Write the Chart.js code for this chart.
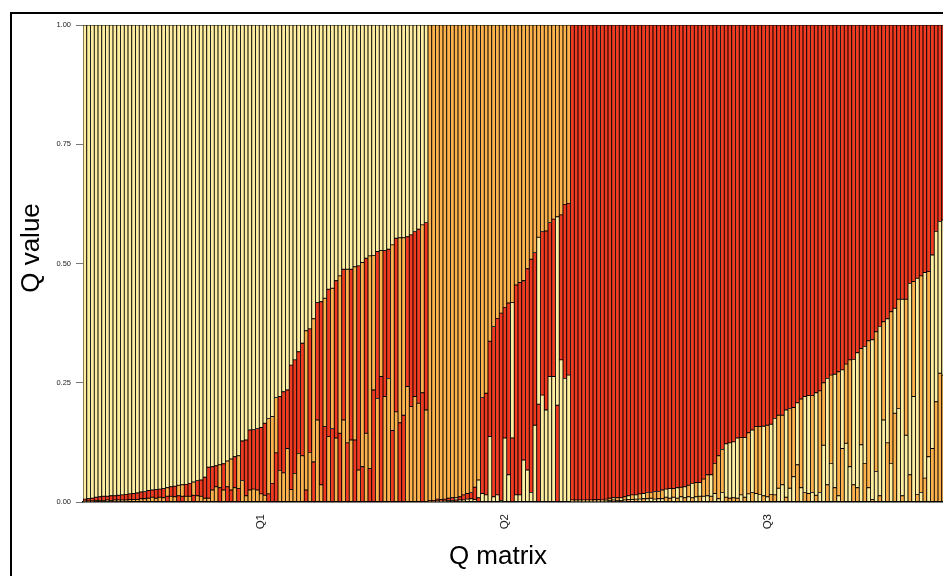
<!DOCTYPE html>
<html>
<head>
<meta charset="utf-8">
<script src="https://cdn.jsdelivr.net/npm/chart.js@4"></script>
<style>
  html, body { margin: 0; padding: 0; overflow: hidden; background: #fff; }
  #frame { position: absolute; left: 10px; top: 12px; width: 1000px; height: 700px; border: 2px solid #000; }
  #wrap { position: absolute; left: 0; top: 0; width: 1000px; height: 602px; }
</style>
</head>
<body>
<div id="frame"></div>
<div id="wrap"><canvas id="myChart" width="1000" height="602"></canvas></div>
<script>
// Q matrix, one value per individual; the group's own cluster is 1 - the other two
const groupNames = ["Q1", "Q2", "Q3"];
const clusterColors = ["#FFEDA0", "#FEB24C", "#F03B20"]; // cluster 1, 2, 3
const yTicks = [0, 0.25, 0.5, 0.75, 1];

const q1Orange = [.002,.002,.002,.003,.003,.003,.004,.003,.004,.004,.004,.004,.005,.005,.005,.007,.007,.008,.010,.008,
  .010,.009,.018,.012,.011,.022,.024,.012,.012,.028,.013,.012,.008,.008,.025,.032,.048,.025,.054,.065,
  .030,.069,.045,.013,.025,.027,.025,.017,.014,.158,.140,.116,.066,.061,.112,.026,.060,.102,.097,.334,
  .104,.300,.172,.036,.269,.137,.294,.134,.330,.172,.364,.130,.363,.067,.428,.144,.446,.282,.217,.264,
  .221,.259,.389,.189,.388,.372,.242,.200,.221,.207,.352,.193];
const q1Red = [.004,.005,.006,.007,.008,.009,.008,.010,.009,.010,.011,.012,.012,.013,.014,.014,.015,.016,.015,.018,
  .017,.019,.012,.020,.022,.013,.012,.025,.027,.014,.032,.034,.044,.065,.049,.044,.030,.055,.032,.025,
  .065,.028,.083,.117,.126,.125,.129,.139,.151,.017,.039,.103,.155,.170,.123,.261,.238,.213,.236,.025,
  .259,.084,.246,.384,.158,.309,.154,.330,.144,.316,.124,.358,.130,.428,.074,.367,.070,.235,.308,.263,
  .306,.271,.150,.364,.166,.182,.314,.360,.346,.365,.229,.393];

const q2Yellow = [.001,.001,.002,.002,.002,.003,.003,.005,.004,.004,.006,.007,.005,.037,.018,.015,.137,.011,.015,.003,
  .134,.057,.284,.015,.015,.088,.067,.020,.161,.350,.224,.193,.263,.263,.395,.298,.259,.266];
const q2Red = [.002,.002,.004,.003,.004,.005,.006,.004,.007,.011,.012,.013,.026,.009,.201,.213,.200,.357,.370,.393,
  .274,.360,.134,.440,.445,.376,.422,.489,.362,.205,.343,.375,.323,.330,.203,.304,.365,.360];

const q3Yellow = [.002,.001,.003,.002,.002,.002,.002,.002,.002,.002,.003,.005,.003,.006,.004,.008,.005,.009,.006,.011,
  .007,.008,.006,.007,.007,.017,.020,.010,.022,.011,.023,.011,.030,.011,.029,.012,.013,.045,.018,.007,
  .020,.112,.116,.117,.126,.015,.125,.017,.131,.018,.016,.146,.011,.147,.160,.029,.036,.183,.029,.053,
  .130,.030,.201,.205,.020,.215,.020,.119,.223,.081,.238,.013,.165,.123,.074,.263,.283,.120,.245,.030,
  .335,.064,.355,.172,.260,.081,.220,.196,.412,.140,.401,.221,.453,.020,.431,.095,.406,.357,.318,.325,
  .330,.335];
const q3Orange = [.002,.003,.001,.002,.002,.002,.003,.003,.002,.004,.005,.004,.006,.003,.007,.005,.010,.006,.011,.007,
  .013,.012,.016,.015,.018,.010,.008,.018,.008,.020,.009,.024,.009,.030,.012,.036,.044,.012,.063,.090,
  .090,.010,.008,.009,.008,.120,.010,.128,.020,.140,.142,.013,.150,.016,.015,.153,.146,.010,.167,.145,
  .078,.186,.020,.018,.203,.014,.213,.131,.036,.185,.030,.260,.112,.166,.224,.036,.030,.202,.081,.308,
  .005,.293,.013,.206,.124,.318,.186,.229,.013,.285,.057,.241,.016,.454,.050,.388,.112,.210,.270,.266,
  .270,.280];

// one row [cluster1, cluster2, cluster3] per individual
const rows = [];
q1Orange.forEach((o, i) => rows.push([1 - o - q1Red[i], o, q1Red[i]]));
q2Yellow.forEach((y, i) => rows.push([y, 1 - y - q2Red[i], q2Red[i]]));
q3Yellow.forEach((y, i) => rows.push([y, q3Orange[i], 1 - y - q3Orange[i]]));

const groupSizes = [q1Orange.length, q2Yellow.length, q3Yellow.length];
const groupLabelAt = {};
let start = 0;
groupSizes.forEach((n, g) => {
  groupLabelAt[start + Math.floor(n / 2) + 1] = groupNames[g];
  start += n;
});

// inside each bar the smallest part sits at the bottom, the largest on top
const orders = rows.map((r) => [0, 1, 2].sort((a, b) => r[a] - r[b]));
const datasets = [0, 1, 2].map((level) => ({
  label: "level " + level,
  data: rows.map((r, i) => r[orders[i][level]]),
  backgroundColor: rows.map((r, i) => clusterColors[orders[i][level]]),
  borderColor: "#000",
  borderWidth: 0.8,
  borderSkipped: false,
  barPercentage: 1,
  categoryPercentage: 1,
}));

const axisTitles = {
  id: "axisTitles",
  afterDraw(chart) {
    const { ctx, chartArea } = chart;
    ctx.save();
    ctx.fillStyle = "#000";
    ctx.font = '26px "Liberation Sans", Arial, sans-serif';
    ctx.textAlign = "center";
    ctx.textBaseline = "middle";
    ctx.fillText("Q matrix", chartArea.left + 415, chartArea.bottom + 55);
    ctx.translate(32, chartArea.top + 223);
    ctx.rotate(-Math.PI / 2);
    ctx.fillText("Q value", 0, 0);
    ctx.restore();
  },
};

const ctx = document.getElementById("myChart");
new Chart(ctx, {
  type: "bar",
  data: { labels: rows.map((r, i) => String(i + 1)), datasets: datasets },
  plugins: [axisTitles],
  options: {
    responsive: false,
    animation: false,
    layout: { padding: { top: 25, right: 47, left: 0, bottom: 0 } },
    plugins: { legend: { display: false }, tooltip: { enabled: false } },
    scales: {
      x: {
        stacked: true,
        grid: { display: false, drawTicks: false },
        border: { display: true, color: "#000", width: 1.5 },
        ticks: {
          autoSkip: false,
          maxRotation: 90,
          minRotation: 90,
          padding: 12,
          color: "#222",
          font: { family: '"Liberation Sans", Arial, sans-serif', size: 11.5 },
          callback: (value, index) => groupLabelAt[index] || "",
        },
        afterFit: (scale) => { scale.height = 100; },
      },
      y: {
        stacked: true,
        min: 0,
        max: 1,
        afterBuildTicks: (scale) => { scale.ticks = yTicks.map((v) => ({ value: v })); },
        grid: { drawOnChartArea: false, drawTicks: true, tickLength: 7, color: "#777" },
        border: { display: false },
        ticks: {
          padding: 5,
          color: "#222",
          font: { family: '"Liberation Sans", Arial, sans-serif', size: 7.5 },
          callback: (value) => value.toFixed(2),
        },
        afterFit: (scale) => { scale.width = 83; },
      },
    },
  },
});
</script>
</body>
</html>
